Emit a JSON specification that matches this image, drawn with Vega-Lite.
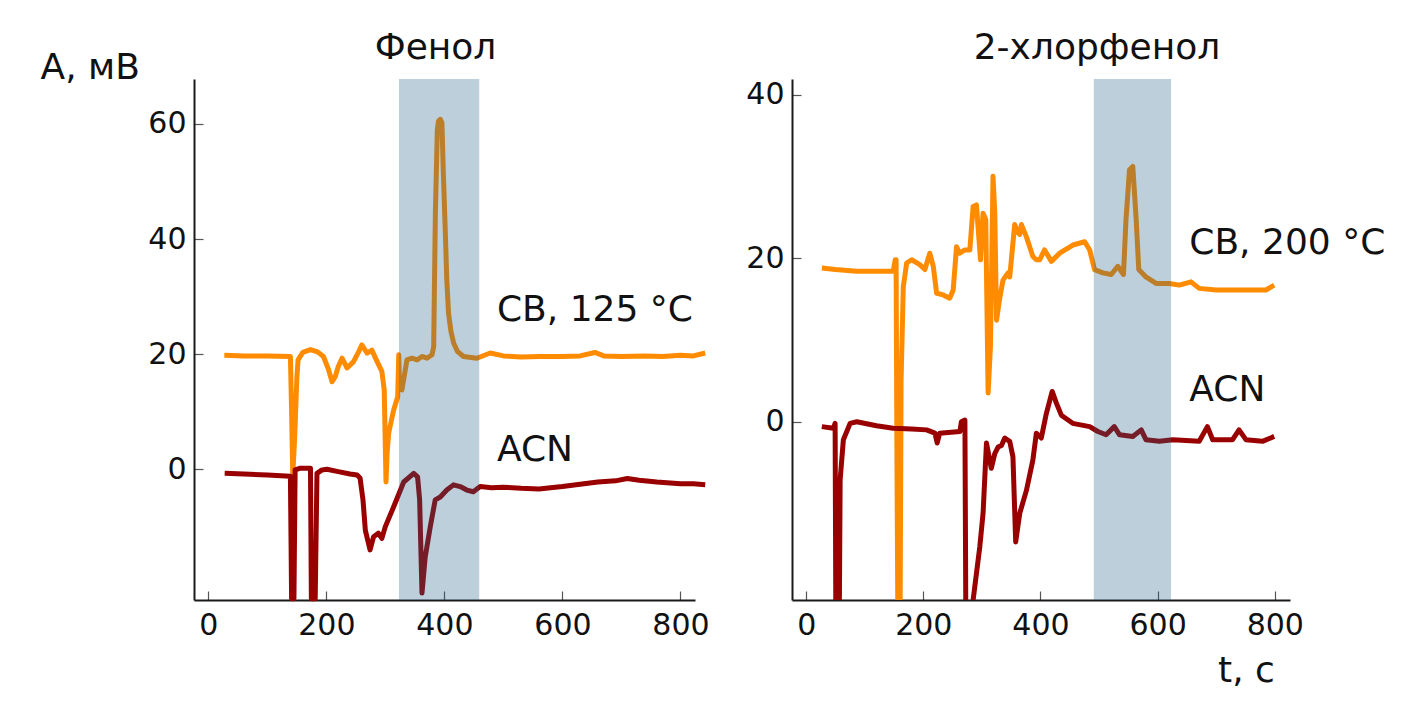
{
  "$schema": "https://vega.github.io/schema/vega-lite/v6.json",
  "autosize": {"type": "pad"},
  "padding": {"left": 40, "top": 30, "right": 20, "bottom": 20},
  "background": "white",
  "bounds": "flush",
  "spacing": 97,
  "config": {
    "view": {"stroke": null},
    "axis": {
      "domainColor": "#1a1a1a",
      "domainWidth": 2,
      "tickColor": "#555555",
      "tickWidth": 1.2,
      "tickSize": -9,
      "labelFont": "DejaVu Sans",
      "labelFontSize": 30,
      "labelColor": "#111111",
      "grid": false,
      "titleFont": "DejaVu Sans",
      "titleFontSize": 36,
      "titleFontWeight": "normal",
      "titleColor": "#111111"
    },
    "axisX": {"labelPadding": 19},
    "axisY": {"labelPadding": 17},
    "title": {"font": "DejaVu Sans", "fontSize": 36, "fontWeight": "normal", "color": "#111111"},
    "text": {"font": "DejaVu Sans"}
  },
  "datasets": {
    "fenol": [
      {"t": 27, "A": 19.8, "s": "CB"}, {"t": 60, "A": 19.7, "s": "CB"}, {"t": 100, "A": 19.7, "s": "CB"}, {"t": 139, "A": 19.6, "s": "CB"},
      {"t": 141, "A": 10, "s": "CB"}, {"t": 143, "A": -1.0, "s": "CB"}, {"t": 146, "A": 5, "s": "CB"}, {"t": 150, "A": 16, "s": "CB"},
      {"t": 152, "A": 19.0, "s": "CB"}, {"t": 160, "A": 20.3, "s": "CB"}, {"t": 173, "A": 20.8, "s": "CB"}, {"t": 185, "A": 20.4, "s": "CB"},
      {"t": 195, "A": 19.6, "s": "CB"}, {"t": 203, "A": 17.5, "s": "CB"}, {"t": 209.6, "A": 15.2, "s": "CB"}, {"t": 215, "A": 16.1, "s": "CB"},
      {"t": 220, "A": 17.8, "s": "CB"}, {"t": 226.5, "A": 19.3, "s": "CB"}, {"t": 235, "A": 17.6, "s": "CB"}, {"t": 246, "A": 18.7, "s": "CB"},
      {"t": 255, "A": 20.5, "s": "CB"}, {"t": 260, "A": 21.6, "s": "CB"}, {"t": 269, "A": 20.2, "s": "CB"}, {"t": 277, "A": 20.7, "s": "CB"},
      {"t": 286, "A": 18.7, "s": "CB"}, {"t": 294, "A": 17.0, "s": "CB"}, {"t": 298, "A": 13.8, "s": "CB"}, {"t": 301, "A": -2.2, "s": "CB"},
      {"t": 303, "A": 3, "s": "CB"}, {"t": 305.5, "A": 6.3, "s": "CB"}, {"t": 314, "A": 10.3, "s": "CB"}, {"t": 320.8, "A": 12.6, "s": "CB"},
      {"t": 322.6, "A": 19.9, "s": "CB"}, {"t": 324, "A": 14, "s": "CB"}, {"t": 328, "A": 13.8, "s": "CB"}, {"t": 336.5, "A": 19.0, "s": "CB"},
      {"t": 345, "A": 19.3, "s": "CB"}, {"t": 353.5, "A": 19.0, "s": "CB"}, {"t": 362, "A": 19.6, "s": "CB"}, {"t": 370.4, "A": 19.3, "s": "CB"},
      {"t": 379, "A": 19.9, "s": "CB"}, {"t": 381.8, "A": 21.3, "s": "CB"}, {"t": 384.7, "A": 44.6, "s": "CB"}, {"t": 388, "A": 59, "s": "CB"},
      {"t": 390, "A": 60.5, "s": "CB"}, {"t": 393, "A": 60.8, "s": "CB"}, {"t": 395.8, "A": 60.2, "s": "CB"}, {"t": 398, "A": 52, "s": "CB"},
      {"t": 401.4, "A": 41.6, "s": "CB"}, {"t": 404, "A": 33, "s": "CB"}, {"t": 407, "A": 27.1, "s": "CB"}, {"t": 411, "A": 24, "s": "CB"},
      {"t": 415.7, "A": 21.9, "s": "CB"}, {"t": 422, "A": 20.5, "s": "CB"}, {"t": 432.4, "A": 19.6, "s": "CB"}, {"t": 455, "A": 19.3, "s": "CB"},
      {"t": 477.6, "A": 20.2, "s": "CB"}, {"t": 500, "A": 19.7, "s": "CB"}, {"t": 530, "A": 19.5, "s": "CB"}, {"t": 560, "A": 19.6, "s": "CB"},
      {"t": 600, "A": 19.6, "s": "CB"}, {"t": 630, "A": 19.7, "s": "CB"}, {"t": 655, "A": 20.3, "s": "CB"}, {"t": 670, "A": 19.7, "s": "CB"},
      {"t": 700, "A": 19.6, "s": "CB"}, {"t": 740, "A": 19.7, "s": "CB"}, {"t": 770, "A": 19.6, "s": "CB"}, {"t": 800, "A": 19.8, "s": "CB"},
      {"t": 822, "A": 19.7, "s": "CB"}, {"t": 842, "A": 20.2, "s": "CB"},
      {"t": 27.6, "A": -0.7, "s": "ACN"}, {"t": 60, "A": -0.8, "s": "ACN"}, {"t": 100, "A": -1.0, "s": "ACN"}, {"t": 139, "A": -1.2, "s": "ACN"},
      {"t": 141, "A": -22.5, "s": "ACN"}, {"t": 145, "A": -22.5, "s": "ACN"}, {"t": 147, "A": -0.1, "s": "ACN"}, {"t": 156, "A": 0.2, "s": "ACN"},
      {"t": 173, "A": 0.2, "s": "ACN"}, {"t": 174.5, "A": -22.5, "s": "ACN"}, {"t": 181, "A": -22.5, "s": "ACN"}, {"t": 184, "A": -0.7, "s": "ACN"},
      {"t": 192.5, "A": -0.1, "s": "ACN"}, {"t": 201, "A": 0, "s": "ACN"}, {"t": 220, "A": -0.4, "s": "ACN"}, {"t": 240, "A": -0.8, "s": "ACN"},
      {"t": 252, "A": -1.0, "s": "ACN"}, {"t": 257, "A": -1.5, "s": "ACN"}, {"t": 262, "A": -5.3, "s": "ACN"}, {"t": 266, "A": -10.6, "s": "ACN"},
      {"t": 274, "A": -14.0, "s": "ACN"}, {"t": 280, "A": -11.7, "s": "ACN"}, {"t": 288, "A": -11.1, "s": "ACN"}, {"t": 294, "A": -12.0, "s": "ACN"},
      {"t": 299.7, "A": -10, "s": "ACN"}, {"t": 314, "A": -6.5, "s": "ACN"}, {"t": 331, "A": -2.2, "s": "ACN"}, {"t": 348, "A": -0.7, "s": "ACN"},
      {"t": 354.5, "A": -1.3, "s": "ACN"}, {"t": 358, "A": -5.3, "s": "ACN"}, {"t": 362, "A": -21.5, "s": "ACN"}, {"t": 367.5, "A": -15.2, "s": "ACN"},
      {"t": 376, "A": -10, "s": "ACN"}, {"t": 384.4, "A": -5.3, "s": "ACN"}, {"t": 393, "A": -4.8, "s": "ACN"}, {"t": 404, "A": -3.6, "s": "ACN"},
      {"t": 415.4, "A": -2.7, "s": "ACN"}, {"t": 426.7, "A": -3.0, "s": "ACN"}, {"t": 438, "A": -3.6, "s": "ACN"}, {"t": 449, "A": -3.9, "s": "ACN"},
      {"t": 460.6, "A": -3.0, "s": "ACN"}, {"t": 480, "A": -3.2, "s": "ACN"}, {"t": 500, "A": -3.1, "s": "ACN"}, {"t": 530, "A": -3.3, "s": "ACN"},
      {"t": 560, "A": -3.4, "s": "ACN"}, {"t": 600, "A": -3.0, "s": "ACN"}, {"t": 630, "A": -2.6, "s": "ACN"}, {"t": 660, "A": -2.2, "s": "ACN"},
      {"t": 690, "A": -2.0, "s": "ACN"}, {"t": 710, "A": -1.6, "s": "ACN"}, {"t": 730, "A": -1.9, "s": "ACN"}, {"t": 760, "A": -2.2, "s": "ACN"},
      {"t": 800, "A": -2.5, "s": "ACN"}, {"t": 822, "A": -2.5, "s": "ACN"}, {"t": 842, "A": -2.7, "s": "ACN"}
    ],
    "chlor": [
      {"t": 26.7, "A": 18.8, "s": "CB"}, {"t": 50, "A": 18.6, "s": "CB"}, {"t": 86, "A": 18.4, "s": "CB"}, {"t": 120, "A": 18.4, "s": "CB"},
      {"t": 148.7, "A": 18.4, "s": "CB"}, {"t": 152, "A": 19.8, "s": "CB"}, {"t": 153.5, "A": 19.8, "s": "CB"}, {"t": 155, "A": -5, "s": "CB"},
      {"t": 157, "A": -30, "s": "CB"}, {"t": 160, "A": -30, "s": "CB"}, {"t": 162, "A": 5, "s": "CB"}, {"t": 165.8, "A": 16.5, "s": "CB"},
      {"t": 171.5, "A": 19.4, "s": "CB"}, {"t": 180, "A": 19.8, "s": "CB"}, {"t": 194, "A": 19.2, "s": "CB"}, {"t": 202.7, "A": 18.6, "s": "CB"},
      {"t": 211, "A": 20.6, "s": "CB"}, {"t": 217, "A": 19.0, "s": "CB"}, {"t": 222.7, "A": 15.7, "s": "CB"}, {"t": 234, "A": 15.5, "s": "CB"},
      {"t": 245, "A": 15.1, "s": "CB"}, {"t": 251, "A": 16.1, "s": "CB"}, {"t": 256.7, "A": 21.4, "s": "CB"}, {"t": 262, "A": 20.6, "s": "CB"},
      {"t": 271, "A": 21.0, "s": "CB"}, {"t": 279.4, "A": 21.0, "s": "CB"}, {"t": 285, "A": 26.3, "s": "CB"}, {"t": 290.7, "A": 26.5, "s": "CB"},
      {"t": 297.6, "A": 19.8, "s": "CB"}, {"t": 302, "A": 25.5, "s": "CB"}, {"t": 306.6, "A": 24.7, "s": "CB"}, {"t": 310.6, "A": 3.5, "s": "CB"},
      {"t": 314.6, "A": 9.2, "s": "CB"}, {"t": 319, "A": 30.0, "s": "CB"}, {"t": 322, "A": 25.5, "s": "CB"}, {"t": 325, "A": 12.4, "s": "CB"},
      {"t": 330, "A": 14.9, "s": "CB"}, {"t": 336, "A": 17.3, "s": "CB"}, {"t": 344.6, "A": 18.2, "s": "CB"}, {"t": 347.5, "A": 17.7, "s": "CB"},
      {"t": 356, "A": 24.1, "s": "CB"}, {"t": 361.7, "A": 23.1, "s": "CB"}, {"t": 364.6, "A": 22.9, "s": "CB"}, {"t": 367.5, "A": 24.1, "s": "CB"},
      {"t": 376, "A": 22.6, "s": "CB"}, {"t": 387, "A": 20.2, "s": "CB"}, {"t": 393, "A": 19.8, "s": "CB"}, {"t": 398.6, "A": 19.8, "s": "CB"},
      {"t": 407, "A": 21.0, "s": "CB"}, {"t": 418.6, "A": 19.6, "s": "CB"}, {"t": 432.7, "A": 20.6, "s": "CB"}, {"t": 455.4, "A": 21.6, "s": "CB"},
      {"t": 475.5, "A": 22.0, "s": "CB"}, {"t": 484, "A": 21.0, "s": "CB"}, {"t": 492.3, "A": 18.6, "s": "CB"}, {"t": 506.5, "A": 18.2, "s": "CB"},
      {"t": 520.8, "A": 18.0, "s": "CB"}, {"t": 532, "A": 19.0, "s": "CB"}, {"t": 541.7, "A": 18.0, "s": "CB"}, {"t": 546, "A": 24.7, "s": "CB"},
      {"t": 552, "A": 30.8, "s": "CB"}, {"t": 557.6, "A": 31.2, "s": "CB"}, {"t": 563.4, "A": 24.7, "s": "CB"}, {"t": 567.8, "A": 18.6, "s": "CB"},
      {"t": 580, "A": 17.7, "s": "CB"}, {"t": 597.4, "A": 16.9, "s": "CB"}, {"t": 620, "A": 16.9, "s": "CB"}, {"t": 637, "A": 16.7, "s": "CB"},
      {"t": 657, "A": 17.1, "s": "CB"}, {"t": 671, "A": 16.3, "s": "CB"}, {"t": 700, "A": 16.1, "s": "CB"}, {"t": 728, "A": 16.1, "s": "CB"},
      {"t": 756, "A": 16.1, "s": "CB"}, {"t": 785, "A": 16.1, "s": "CB"}, {"t": 799, "A": 16.7, "s": "CB"},
      {"t": 26.7, "A": -0.6, "s": "ACN"}, {"t": 46.5, "A": -0.8, "s": "ACN"}, {"t": 49.4, "A": -0.2, "s": "ACN"}, {"t": 51, "A": -30, "s": "ACN"},
      {"t": 56, "A": -30, "s": "ACN"}, {"t": 58, "A": -7.1, "s": "ACN"}, {"t": 63.5, "A": -2.2, "s": "ACN"}, {"t": 75, "A": -0.2, "s": "ACN"},
      {"t": 86.4, "A": 0, "s": "ACN"}, {"t": 120, "A": -0.5, "s": "ACN"}, {"t": 148.7, "A": -0.8, "s": "ACN"}, {"t": 180, "A": -0.9, "s": "ACN"},
      {"t": 205.6, "A": -1.0, "s": "ACN"}, {"t": 219.8, "A": -1.4, "s": "ACN"}, {"t": 223.7, "A": -2.6, "s": "ACN"}, {"t": 228, "A": -1.4, "s": "ACN"},
      {"t": 262.4, "A": -1.2, "s": "ACN"}, {"t": 265, "A": 0, "s": "ACN"}, {"t": 271, "A": 0.2, "s": "ACN"}, {"t": 273, "A": -30, "s": "ACN"},
      {"t": 283, "A": -30, "s": "ACN"}, {"t": 285, "A": -21.8, "s": "ACN"}, {"t": 296.4, "A": -15.3, "s": "ACN"}, {"t": 302, "A": -11.2, "s": "ACN"},
      {"t": 307.8, "A": -2.6, "s": "ACN"}, {"t": 316, "A": -5.7, "s": "ACN"}, {"t": 322, "A": -3.9, "s": "ACN"}, {"t": 327.6, "A": -3.1, "s": "ACN"},
      {"t": 333.4, "A": -2.9, "s": "ACN"}, {"t": 339, "A": -2.0, "s": "ACN"}, {"t": 347.5, "A": -2.4, "s": "ACN"}, {"t": 353, "A": -4.3, "s": "ACN"},
      {"t": 357.7, "A": -14.7, "s": "ACN"}, {"t": 364.6, "A": -11.2, "s": "ACN"}, {"t": 376, "A": -8.4, "s": "ACN"}, {"t": 387, "A": -4.7, "s": "ACN"},
      {"t": 393, "A": -1.4, "s": "ACN"}, {"t": 401.4, "A": -2.0, "s": "ACN"}, {"t": 410, "A": 1.0, "s": "ACN"}, {"t": 420, "A": 3.7, "s": "ACN"},
      {"t": 427, "A": 2.3, "s": "ACN"}, {"t": 435.6, "A": 0.8, "s": "ACN"}, {"t": 455, "A": -0.2, "s": "ACN"}, {"t": 484, "A": -0.6, "s": "ACN"},
      {"t": 498, "A": -1.2, "s": "ACN"}, {"t": 512, "A": -1.6, "s": "ACN"}, {"t": 526, "A": -0.6, "s": "ACN"}, {"t": 535, "A": -1.6, "s": "ACN"},
      {"t": 557.6, "A": -1.8, "s": "ACN"}, {"t": 572, "A": -1.0, "s": "ACN"}, {"t": 580, "A": -2.2, "s": "ACN"}, {"t": 603, "A": -2.4, "s": "ACN"},
      {"t": 626, "A": -2.2, "s": "ACN"}, {"t": 671, "A": -2.4, "s": "ACN"}, {"t": 685, "A": -0.6, "s": "ACN"}, {"t": 694, "A": -2.2, "s": "ACN"},
      {"t": 728, "A": -2.2, "s": "ACN"}, {"t": 739, "A": -1.0, "s": "ACN"}, {"t": 750.7, "A": -2.2, "s": "ACN"}, {"t": 779, "A": -2.4, "s": "ACN"},
      {"t": 799, "A": -1.8, "s": "ACN"}
    ]
  },
  "hconcat": [
    {
      "width": 501,
      "height": 521,
      "title": {"text": "Фенол", "anchor": "middle", "dx": -9, "offset": -18},
      "layer": [
        {
          "data": {"name": "fenol"},
          "mark": {"type": "line", "strokeWidth": 5, "clip": false, "strokeJoin": "round"},
          "encoding": {
            "x": {"field": "t", "type": "quantitative", "scale": {"domain": [-24.4, 824.7], "nice": false, "zero": false},
                  "axis": {"values": [0, 200, 400, 600, 800], "title": null}},
            "y": {"field": "A", "type": "quantitative", "scale": {"domain": [-22.7, 67.8], "nice": false, "zero": false},
                  "axis": {"values": [0, 20, 40, 60], "title": "A, мВ", "titleAngle": 0, "titleAlign": "left", "titleBaseline": "alphabetic", "titleX": -154, "titleY": -1}},
            "color": {"field": "s", "type": "nominal", "scale": {"domain": ["CB", "ACN"], "range": ["#ff8c00", "#990000"]}, "legend": null},
            "order": {"field": "t", "type": "quantitative"}
          }
        },
        {
          "data": {"values": [{"a": 323, "b": 459}]},
          "mark": {"type": "rect", "color": "#205f85", "opacity": 0.3},
          "encoding": {
            "x": {"field": "a", "type": "quantitative"},
            "x2": {"field": "b"}
          }
        },
        {
          "data": {"values": [{"t": 489, "A": 27.7, "label": "СВ, 125 °C"}, {"t": 489, "A": 3.4, "label": "ACN"}]},
          "mark": {"type": "text", "align": "left", "baseline": "middle", "fontSize": 36, "color": "#111111"},
          "encoding": {
            "x": {"field": "t", "type": "quantitative"},
            "y": {"field": "A", "type": "quantitative"},
            "text": {"field": "label"}
          }
        }
      ]
    },
    {
      "width": 498,
      "height": 521,
      "title": {"text": "2-хлорфенол", "anchor": "middle", "dx": 56, "offset": 12},
      "layer": [
        {
          "data": {"name": "chlor"},
          "mark": {"type": "line", "strokeWidth": 5, "clip": true, "strokeJoin": "round"},
          "encoding": {
            "x": {"field": "t", "type": "quantitative", "scale": {"domain": [-24.2, 826], "nice": false, "zero": false},
                  "axis": {"values": [0, 200, 400, 600, 800], "title": "t, c", "titleAlign": "center", "titleBaseline": "alphabetic", "titleX": 454, "titleY": 81}},
            "y": {"field": "A", "type": "quantitative", "scale": {"domain": [-21.8, 41.9], "nice": false, "zero": false},
                  "axis": {"values": [0, 20, 40], "title": null}},
            "color": {"field": "s", "type": "nominal", "scale": {"domain": ["CB", "ACN"], "range": ["#ff8c00", "#990000"]}, "legend": null},
            "order": {"field": "t", "type": "quantitative"}
          }
        },
        {
          "data": {"values": [{"a": 491, "b": 623}]},
          "mark": {"type": "rect", "color": "#205f85", "opacity": 0.3},
          "encoding": {
            "x": {"field": "a", "type": "quantitative"},
            "x2": {"field": "b"}
          }
        },
        {
          "data": {"values": [{"t": 654, "A": 21.9, "label": "СВ, 200 °C"}, {"t": 654, "A": 3.9, "label": "ACN"}]},
          "mark": {"type": "text", "align": "left", "baseline": "middle", "fontSize": 36, "color": "#111111"},
          "encoding": {
            "x": {"field": "t", "type": "quantitative"},
            "y": {"field": "A", "type": "quantitative"},
            "text": {"field": "label"}
          }
        }
      ]
    }
  ]
}
